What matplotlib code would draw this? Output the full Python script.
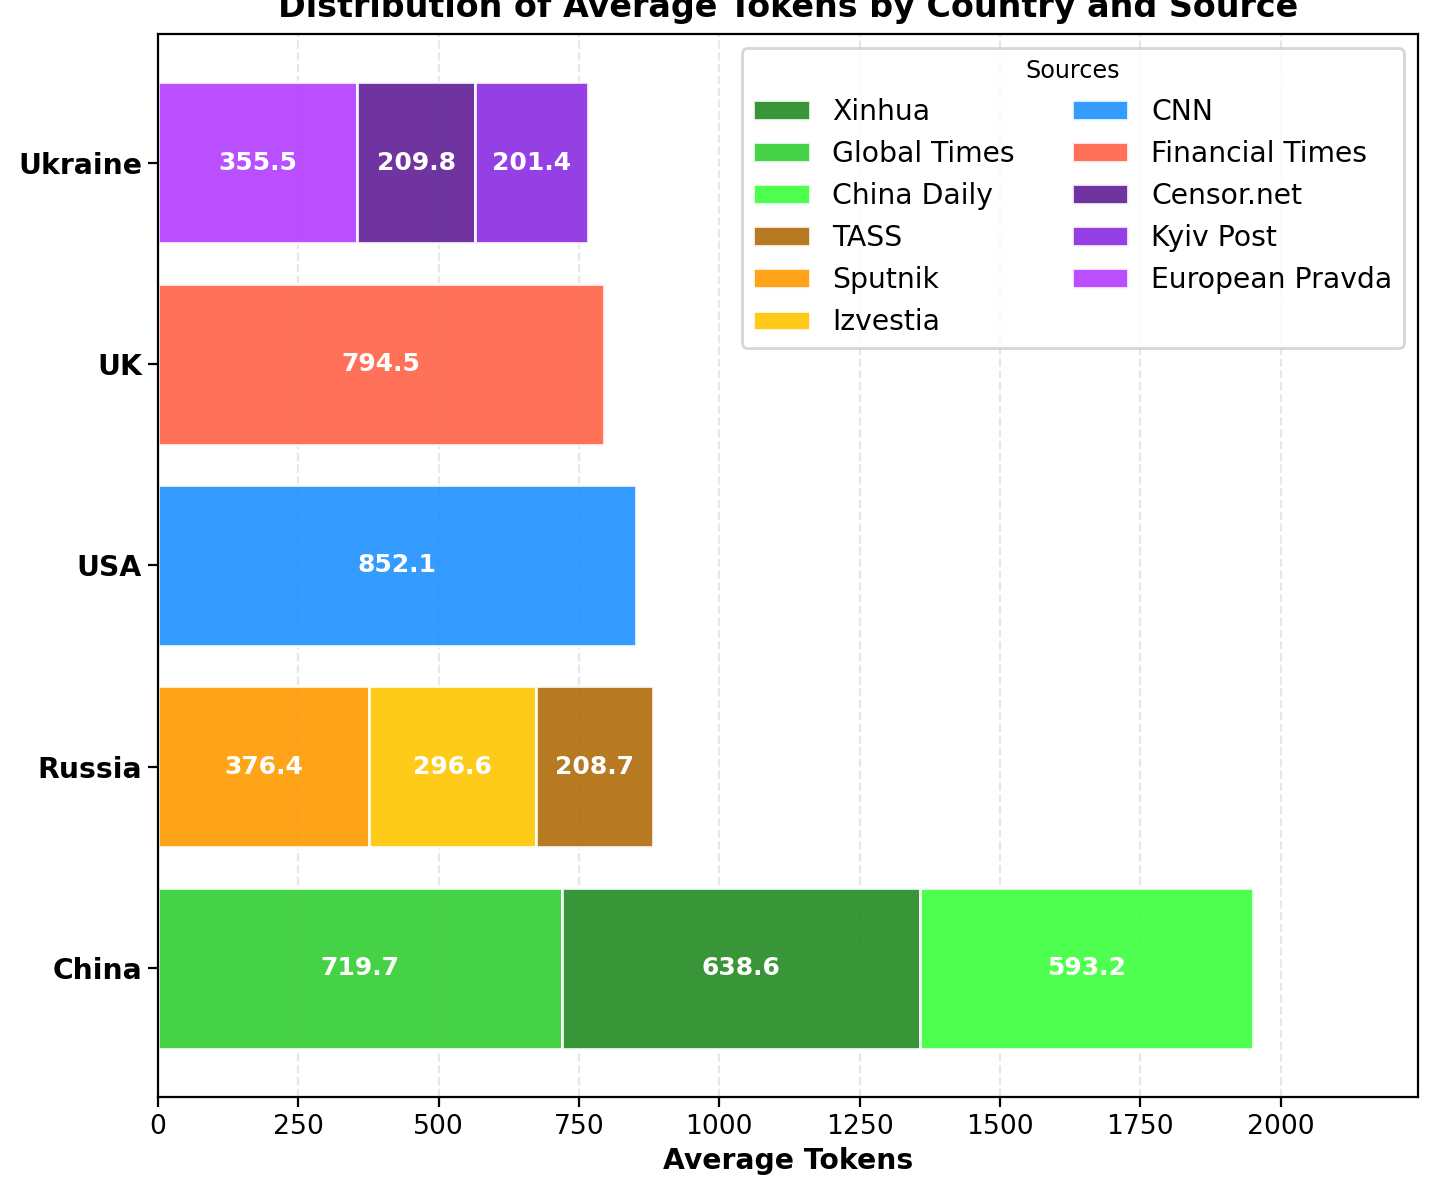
import matplotlib
matplotlib.use("Agg")
import matplotlib.pyplot as plt
from matplotlib.patches import Patch

# average tokens per source, grouped by country (stack order as drawn)
countries = ["China", "Russia", "USA", "UK", "Ukraine"]
stack_sources = {
    "China": ["Global Times", "Xinhua", "China Daily"],
    "Russia": ["Sputnik", "Izvestia", "TASS"],
    "USA": ["CNN"],
    "UK": ["Financial Times"],
    "Ukraine": ["European Pravda", "Censor.net", "Kyiv Post"],
}
stack_values = {
    "China": [719.7, 638.6, 593.2],
    "Russia": [376.4, 296.6, 208.7],
    "USA": [852.1],
    "UK": [794.5],
    "Ukraine": [355.5, 209.8, 201.4],
}
legend_order = ["Xinhua", "Global Times", "China Daily", "TASS", "Sputnik", "Izvestia",
                "CNN", "Financial Times", "Censor.net", "Kyiv Post", "European Pravda"]
colors = {
    "Xinhua": "#228B22", "Global Times": "#32CD32", "China Daily": "#3CFF3C",
    "TASS": "#B06A0A", "Sputnik": "#FF9900", "Izvestia": "#FFC600",
    "CNN": "#1E90FF", "Financial Times": "#FF6347",
    "Censor.net": "#5F1E96", "Kyiv Post": "#8A2BE2", "European Pravda": "#B23CFF",
}

fig, ax = plt.subplots(figsize=(7.175, 5.955), dpi=200)
fig.subplots_adjust(left=0.110, right=0.988, top=0.9715, bottom=0.079)

ax.grid(axis="x", linestyle="--", alpha=0.3, zorder=0)
ax.set_axisbelow(True)

for i, c in enumerate(countries):
    left = 0
    for src, v in zip(stack_sources[c], stack_values[c]):
        ax.barh(i, v, left=left, height=0.8, color=colors[src], alpha=0.9,
                edgecolor="white", linewidth=1, zorder=2)
        ax.text(left + v / 2, i, f"{v:.1f}", ha="center", va="center",
                color="white", fontweight="bold", fontsize=9, zorder=3)
        left += v

totals = [sum(stack_values[c]) for c in countries]
ax.set_xlim(0, max(totals) * 1.15)
ax.set_yticks(range(len(countries)))
ax.set_yticklabels(countries, fontsize=10.2, fontweight="bold")
ax.tick_params(axis="y", pad=2.2)
ax.tick_params(axis="x", labelsize=9.6, pad=2.6)
ax.set_xlabel("Average Tokens", fontsize=10.2, fontweight="bold", labelpad=2.5)
ax.set_title("Distribution of Average Tokens by Country and Source",
             fontsize=12, fontweight="bold")

handles = [Patch(facecolor=colors[s], alpha=0.9, edgecolor="white", label=s)
           for s in legend_order]
ax.legend(handles=handles, title="Sources", loc="upper right", ncol=2,
          fontsize=10.2, title_fontsize=8.6)

fig.savefig("out.png", dpi=200)
